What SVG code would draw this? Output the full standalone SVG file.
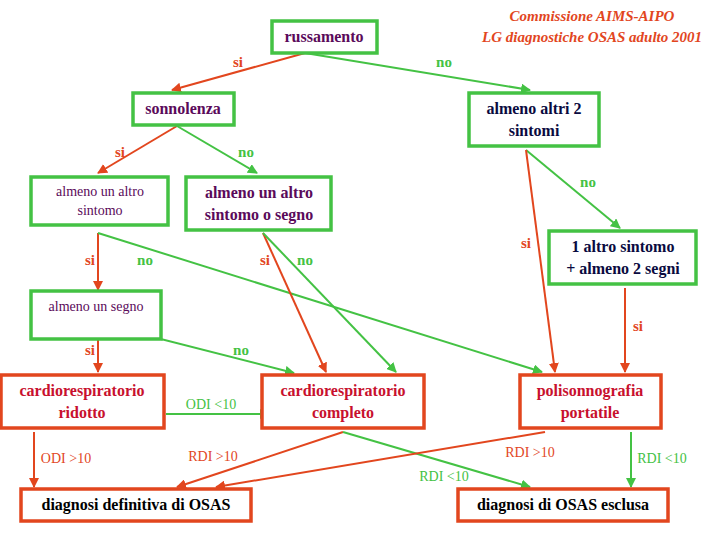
<svg xmlns="http://www.w3.org/2000/svg" width="720" height="540" viewBox="0 0 720 540">
<style>
.g{fill:#fff;stroke:#44c244;stroke-width:3.5}
.r{fill:#fff;stroke:#e2461e;stroke-width:3.5}
.p{fill:#5a0a5a}.d{fill:#0a0a40}.c{fill:#c8102e}.k{fill:#000}
.cr{stroke:#e2461e;stroke-width:2;fill:none;marker-end:url(#ar)}
.cg{stroke:#44c244;stroke-width:2;fill:none;marker-end:url(#ag)}
</style>
<defs>
<marker id="ar" viewBox="0 0 10 10" refX="9" refY="5" markerWidth="5" markerHeight="5" orient="auto"><path d="M0,0L10,5L0,10z" fill="#e2461e"/></marker>
<marker id="ag" viewBox="0 0 10 10" refX="9" refY="5" markerWidth="5" markerHeight="5" orient="auto"><path d="M0,0L10,5L0,10z" fill="#44c244"/></marker>
</defs>
<rect width="720" height="540" fill="#fff"/>
<g font-family="Liberation Serif, serif" text-anchor="middle" fill="#e2461e" font-style="italic" font-weight="bold" font-size="15">
<text x="592" y="21">Commissione AIMS-AIPO</text>
<text x="592" y="42">LG diagnostiche OSAS adulto 2001</text>
</g>
<g id="connectors">
<line class="cr" x1="305" y1="53" x2="172" y2="90"/>
<line class="cg" x1="305" y1="53" x2="530" y2="90"/>
<line class="cr" x1="177" y1="126" x2="98" y2="173"/>
<line class="cg" x1="177" y1="126" x2="257" y2="173"/>
<line class="cg" x1="526" y1="150" x2="620" y2="228"/>
<line class="cr" x1="526" y1="150" x2="555" y2="372"/>
<line class="cr" x1="625" y1="288" x2="625" y2="372"/>
<line class="cr" x1="98" y1="233" x2="98" y2="290"/>
<line class="cg" x1="98" y1="233" x2="542" y2="372"/>
<line class="cr" x1="263" y1="233" x2="326" y2="372"/>
<line class="cg" x1="263" y1="233" x2="396" y2="372"/>
<line class="cr" x1="98" y1="323" x2="98" y2="372"/>
<line class="cg" x1="98" y1="323" x2="294" y2="373"/>
<line class="cg" x1="166" y1="414" x2="269" y2="414"/>
<line class="cr" x1="34" y1="432" x2="34" y2="487"/>
<line class="cr" x1="343" y1="432" x2="177" y2="487"/>
<line class="cg" x1="343" y1="432" x2="530" y2="487"/>
<line class="cr" x1="545" y1="432" x2="216" y2="487"/>
<line class="cg" x1="631" y1="432" x2="631" y2="487"/>
</g>
<g id="labels" font-family="Liberation Serif, serif" text-anchor="middle">
<g font-weight="bold" font-size="15" fill="#e2461e">
<text x="238" y="67">si</text><text x="120" y="157">si</text><text x="90" y="265">si</text><text x="265" y="265">si</text><text x="526" y="248">si</text><text x="638" y="331">si</text><text x="90" y="355">si</text>
</g>
<g font-weight="bold" font-size="15" fill="#44c244">
<text x="444" y="67">no</text><text x="246" y="157">no</text><text x="588" y="187">no</text><text x="145" y="265">no</text><text x="305" y="265">no</text><text x="241" y="355">no</text>
</g>
<g font-size="14" fill="#44c244"><text x="211" y="409">ODI &lt;10</text><text x="444" y="481">RDI &lt;10</text><text x="662" y="463">RDI &lt;10</text></g>
<g font-size="14" fill="#e2461e"><text x="66" y="463">ODI &gt;10</text><text x="213" y="461">RDI &gt;10</text><text x="530" y="457">RDI &gt;10</text></g>
</g>
<g font-family="Liberation Serif, serif" text-anchor="middle" font-weight="bold" font-size="16">
<g id="russamento"><rect class="g" x="272" y="21" width="105" height="32"/><text class="p" x="324" y="42">russamento</text></g>
<g id="sonnolenza"><rect class="g" x="133" y="93" width="101" height="32"/><text class="p" x="183" y="114">sonnolenza</text></g>
<g id="altri2"><rect class="g" x="469" y="93" width="130" height="53"/><text class="d" x="534" y="114">almeno altri 2</text><text class="d" x="534" y="136">sintomi</text></g>
<g id="altro-sintomo" font-weight="normal" font-size="14"><rect class="g" x="31" y="177" width="137" height="48"/><text class="p" x="100" y="196">almeno un altro</text><text class="p" x="100" y="215">sintomo</text></g>
<g id="altro-segno"><rect class="g" x="186" y="177" width="145" height="53"/><text class="p" x="259" y="198">almeno un altro</text><text class="p" x="259" y="220">sintomo o segno</text></g>
<g id="uno-altro"><rect class="g" x="549" y="231" width="147" height="53"/><text class="d" x="623" y="252">1 altro sintomo</text><text class="d" x="623" y="274">+ almeno 2 segni</text></g>
<g id="segno" font-weight="normal" font-size="14"><rect class="g" x="31" y="291" width="130" height="48"/><text class="p" x="96" y="311">almeno un segno</text></g>
<g id="ridotto"><rect class="r" x="1" y="375" width="163" height="53"/><text class="c" x="82" y="396">cardiorespiratorio</text><text class="c" x="82" y="418">ridotto</text></g>
<g id="completo"><rect class="r" x="262" y="375" width="162" height="53"/><text class="c" x="343" y="396">cardiorespiratorio</text><text class="c" x="343" y="418">completo</text></g>
<g id="polisonno"><rect class="r" x="520" y="375" width="141" height="53"/><text class="c" x="590" y="396">polisonnografia</text><text class="c" x="590" y="418">portatile</text></g>
<g id="definitiva"><rect class="r" x="21" y="489" width="230" height="32"/><text class="k" x="136" y="510">diagnosi definitiva di OSAS</text></g>
<g id="esclusa"><rect class="r" x="458" y="489" width="210" height="32"/><text class="k" x="563" y="510">diagnosi di OSAS esclusa</text></g>
</g>
</svg>
